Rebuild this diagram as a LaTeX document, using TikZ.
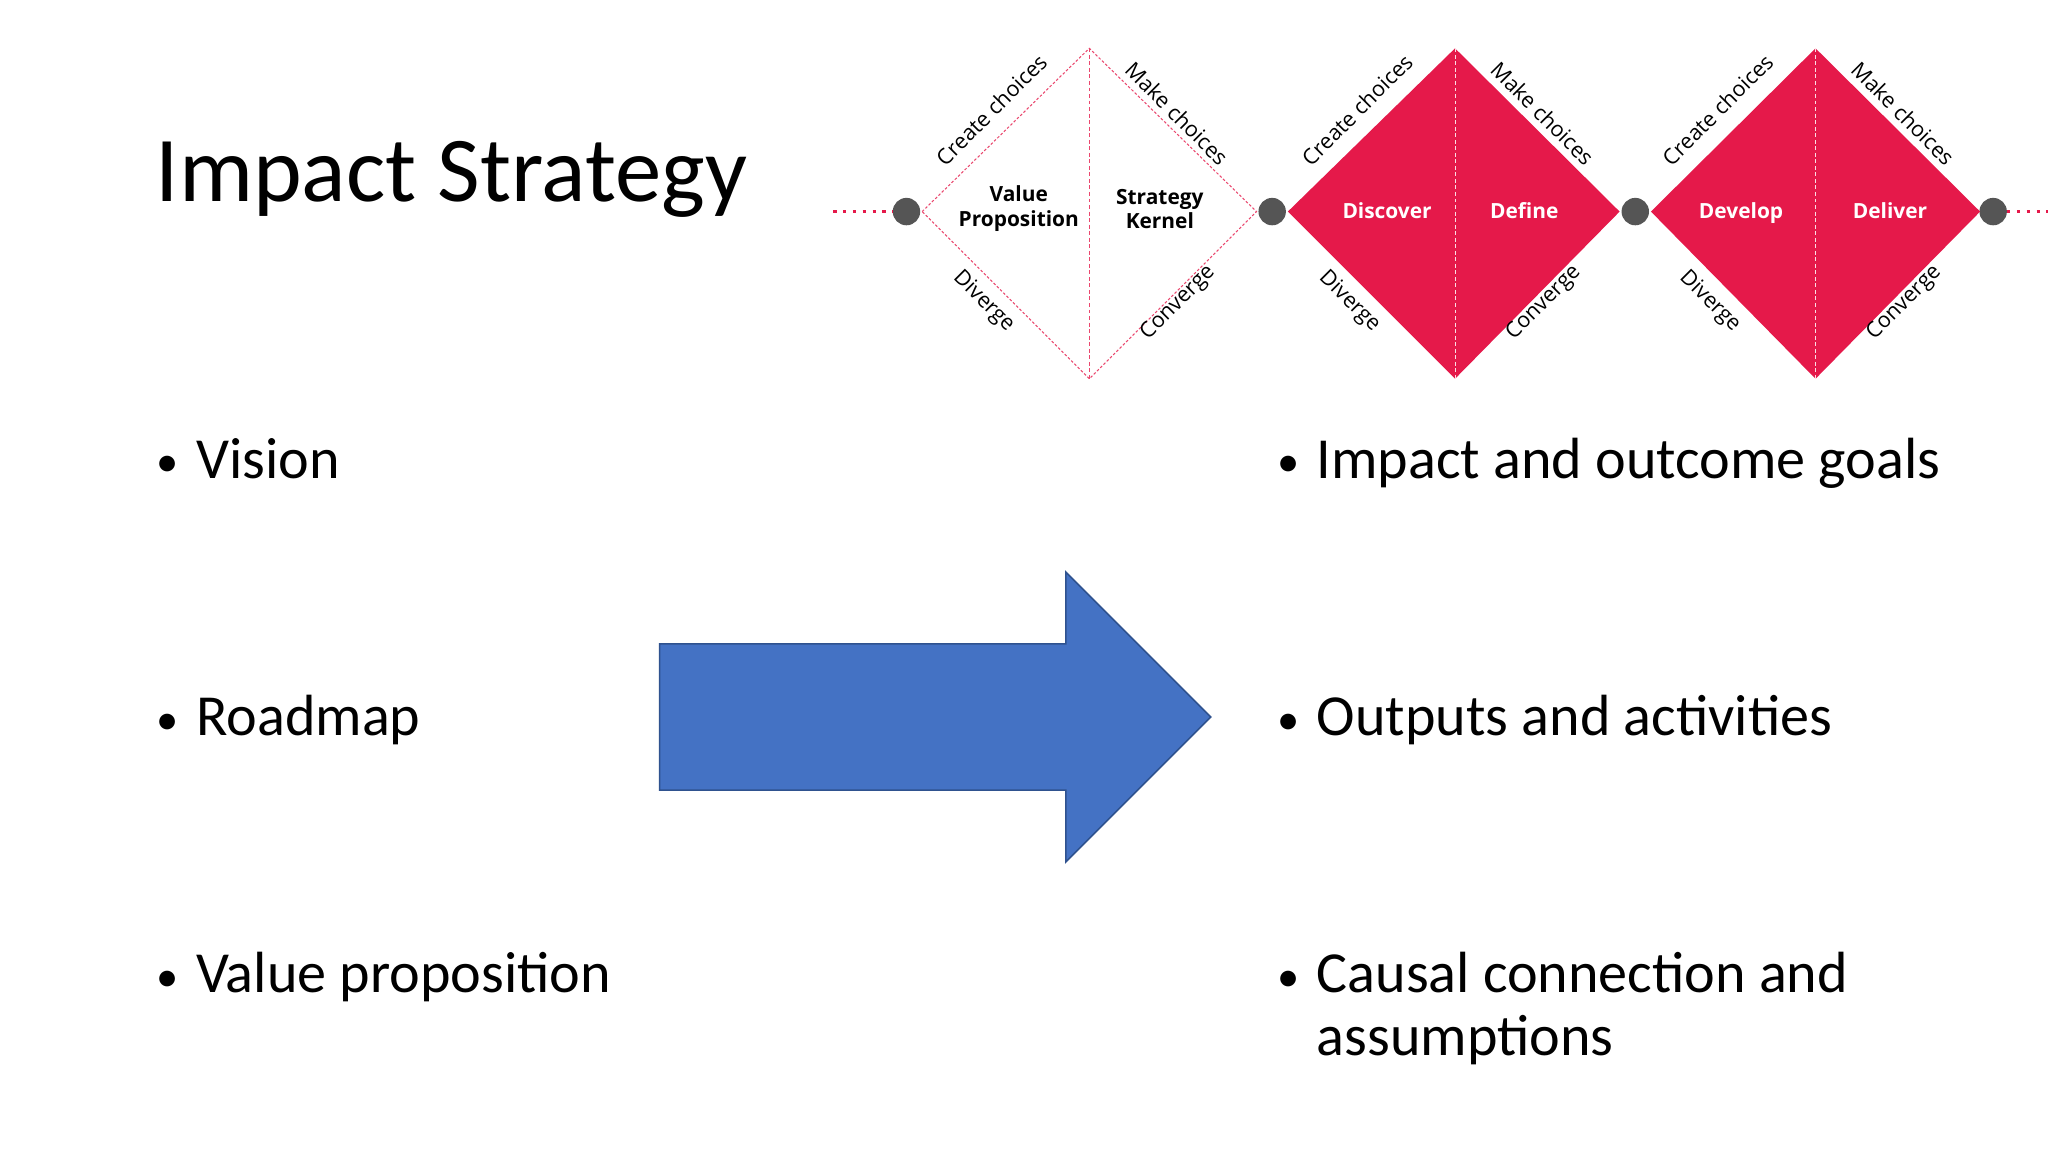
\documentclass[tikz,border=0pt]{standalone}
\usepackage{fontspec}
\setmainfont{Carlito}
\newfontfamily\dsans{Open Sans}
\definecolor{dred}{HTML}{E5194A}
\definecolor{dgray}{HTML}{555555}
\definecolor{ablue}{HTML}{4472C4}
\definecolor{ablueb}{HTML}{2F528F}
\newcommand{\mybul}{\makebox[30pt][l]{\raisebox{1pt}{\fontsize{34}{40}\selectfont•}}}
\begin{document}
\begin{tikzpicture}[x=1pt,y=-1pt,
  bul/.style={anchor=base west,inner sep=0,font=\fontsize{44.5}{50}\selectfont},
  edge/.style={inner sep=0,font=\dsans\fontsize{16.5}{18}\selectfont},
  lab/.style={inner sep=0,align=center,text depth=0pt,font=\dsans\bfseries\fontsize{16}{19}\selectfont},
  dot/.style={circle,fill=dgray,minimum size=21,inner sep=0}]
\useasboundingbox (0,0) rectangle (1568,882);
\fill[white] (0,0) rectangle (1568,882);
\node[anchor=base west,inner sep=0,font=\fontsize{71}{75}\selectfont] (title) at (119,154) {Impact Strategy};
\coordinate (l0) at (638,162); \coordinate (r0) at (1568,162);
\node[dot] (d1) at (694,162) {};
\node[dot] (d2) at (974,162) {};
\node[dot] (d3) at (1252,162) {};
\node[dot] (d4) at (1526,162) {};
\draw[dred,line width=2.2,dash pattern=on 2.5 off 5] (l0) -- (d1.west);
\draw[dred,line width=2.2,dash pattern=on 2.5 off 5] (d4.east) -- (r0);
\draw[dred!80,line width=0.8,dash pattern=on 2 off 1.5] (706,162) -- (834,37) -- (962,162) -- (834,290) -- cycle;
\draw[dred!80,line width=0.8,dash pattern=on 3 off 2] (834,37) -- (834,290);
\fill[dred] (986,162) -- (1114,37) -- (1240,162) -- (1114,290) -- cycle;
\draw[white!85!dred,line width=0.8,dash pattern=on 3 off 2] (1114,37) -- (1114,290);
\fill[dred] (1264,162) -- (1390,37) -- (1516,162) -- (1390,290) -- cycle;
\draw[white!85!dred,line width=0.8,dash pattern=on 3 off 2] (1390,37) -- (1390,290);
\node[lab] (vp) at (780,158) {Value\\Proposition};
\node[lab] (sk) at (888,160) {Strategy\\Kernel};
\node[lab,white] (dc) at (1062,161) {Discover};
\node[lab,white] (df) at (1167,161) {Define};
\node[lab,white] (dv) at (1333,161) {Develop};
\node[lab,white] (dl) at (1447,161) {Deliver};
\foreach \cx/\i in {834/a,1114/b,1390/c}{
  \node[edge,rotate=45] (cc\i) at (\cx-75,84) {Create choices};
  \node[edge,rotate=-45] (mc\i) at (\cx+67,87) {Make choices};
  \node[edge,rotate=-45] (dg\i) at (\cx-81,231) {Diverge};
  \node[edge,rotate=45] (cv\i) at (\cx+68,232) {Converge};
}
\node[bul] (b1) at (120,366) {\mybul Vision};
\node[bul] (b2) at (120,563) {\mybul Roadmap};
\node[bul] (b3) at (120,760) {\mybul Value proposition};
\node[bul] (b4) at (978,366) {\mybul Impact and outcome goals};
\node[bul] (b5) at (978,563) {\mybul Outputs and activities};
\node[bul] (b6) at (978,760) {\mybul Causal connection and};
\node[bul] (b7) at (1008,808) {assumptions};
\draw[fill=ablue,draw=ablueb,line width=1.2] (505,493) -- (816,493) -- (816,438) -- (927,549) -- (816,660) -- (816,605) -- (505,605) -- cycle;
\end{tikzpicture}
\end{document}
